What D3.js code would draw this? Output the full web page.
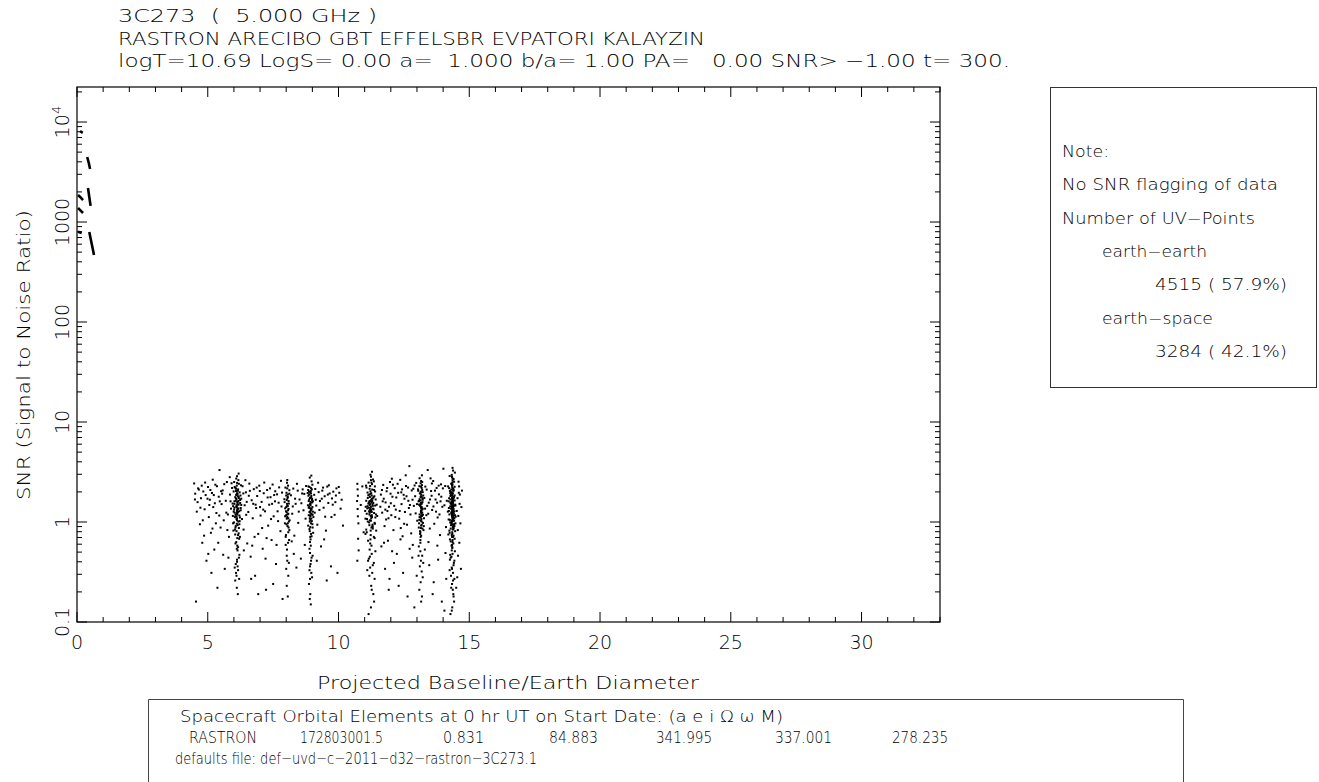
<!DOCTYPE html>
<meta charset="utf-8">
<style>
body { margin: 0; background: #fff; }
svg { display: block; font-family: "DejaVu Sans", "Liberation Sans", sans-serif; font-weight: 200; }
text { fill: #000; white-space: pre; }
</style>
<body>
<script src="https://d3js.org/d3.v7.min.js"></script>
<script>

// ---- text content ----
var titleLines = [
  "3C273  (  5.000 GHz )",
  "RASTRON ARECIBO GBT EFFELSBR EVPATORI KALAYZIN",
  "logT=10.69 LogS= 0.00 a=  1.000 b/a= 1.00 PA=   0.00 SNR> \u22121.00 t= 300."
];
var xTitle = "Projected Baseline/Earth Diameter";
var yTitle = "SNR (Signal to Noise Ratio)";
var xTickValues = [0, 5, 10, 15, 20, 25, 30];
var yTickValues = [0.1, 1, 10, 100, 1000, 10000];
var yTickLabels = ["0.1", "1", "10", "100", "1000", "10^4"];

var legendLines = [
  "Note:",
  "No SNR flagging of data",
  "Number of UV\u2212Points",
  "earth\u2212earth",
  "4515 ( 57.9%)",
  "earth\u2212space",
  "3284 ( 42.1%)"
];
var orbitHeader = "Spacecraft Orbital Elements at 0 hr UT on Start Date: (a e i \u03A9 \u03C9 M)";
var orbitRow = ["RASTRON", "172803001.5", "0.831", "84.883", "341.995", "337.001", "278.235"];
var defaultsLine = "defaults file: def\u2212uvd\u2212c\u22122011\u2212d32\u2212rastron\u22123C273.1";

// ---- earth-earth tracks (baseline, SNR) ----
var earthTracks = [
  [[0.12, 8100], [0.22, 7800]],
  [[0.39, 4470], [0.45, 3900], [0.50, 3390]],
  [[0.42, 2190], [0.47, 1780], [0.52, 1450]],
  [[0.04, 1860], [0.14, 1760], [0.23, 1660]],
  [[0.04, 1380], [0.14, 1300], [0.23, 1230]],
  [[0.04, 800], [0.18, 776]],
  [[0.47, 794], [0.56, 610], [0.65, 468]]
];

// ---- earth-space points (baseline, SNR) ----
var stripe61 = [[6.10,1.22],[6.21,0.95],[6.02,1.61],[6.15,2.05],[6.26,1.38],[5.98,0.82],[6.12,1.09],[6.19,2.41],[6.05,1.77],[6.23,0.71],[6.01,1.33],[6.14,1.91],[6.09,0.63],[6.28,1.48],[5.96,1.15],[6.17,2.62],[6.06,0.88],[6.13,1.57],[6.22,1.02],[6.03,2.24],[6.16,0.56],[6.11,1.41],[6.25,1.84],[5.99,1.27],[6.18,0.77],[6.12,2.87],[6.04,1.12],[6.24,1.66],[6.00,0.99],[6.15,1.35],[6.08,2.15],[6.20,0.68],[6.02,1.52],[6.13,1.19],[6.19,1.73],[6.07,0.91],[6.27,2.33],[5.97,1.44],[6.14,0.52],[6.10,1.07],[6.22,1.98],[6.04,0.84],[6.12,1.29],[6.17,1.62],[6.01,2.51],[6.16,0.74],[6.09,1.86],[6.23,1.11],[6.06,0.61],[6.11,1.47],[6.18,3.05],[6.03,1.24],[6.21,0.47],[6.10,1.69],[6.14,0.93],[5.99,2.02],[6.26,1.31],[6.12,0.42],[6.07,0.38],[6.16,0.33],[6.10,0.29],[6.14,0.36],[6.05,0.26],[6.19,0.44],[6.11,0.22],[6.08,0.31],[6.15,0.19],[6.12,0.40],[6.20,0.27],[6.03,0.35],[6.13,0.58],[6.09,2.72],[6.21,1.16],[6.02,1.39],[6.12,1.04],[6.18,1.79],[6.06,2.19],[6.15,1.26],[6.10,0.81],[6.24,1.55],
  [6.13,1.34],[6.08,1.72],[6.17,1.01],[6.11,2.31],[6.14,1.51],[6.06,1.18],[6.19,0.87],[6.12,1.94],[6.09,1.43],[6.16,2.12],[6.13,0.69],[6.07,1.63],[6.20,1.28],[6.11,0.96],[6.15,1.81],[6.10,1.14],[6.12,2.46],[6.17,1.37],[6.05,0.75],[6.14,1.59],[6.08,2.04],[6.13,1.23],[6.11,0.54],[6.18,1.49],[6.10,1.88]];
var stripe80 = [[8.02,1.25],[8.09,1.62],[7.95,0.97],[8.06,1.88],[8.00,1.41],[8.12,0.83],[7.97,2.21],[8.04,1.12],[8.10,1.53],[7.99,0.74],[8.07,1.31],[8.03,2.47],[8.13,1.04],[7.93,1.69],[8.05,0.91],[8.08,1.21],[8.01,1.96],[8.11,0.66],[7.96,1.37],[8.06,1.78],[8.02,1.08],[8.12,2.08],[7.98,0.59],[8.04,1.46],[8.09,0.88],[8.00,1.17],[8.07,2.31],[7.94,1.58],[8.10,1.01],[8.03,0.53],[8.05,1.73],[7.99,1.28],[8.08,0.79],[8.06,1.44],[8.02,0.46],[8.10,0.39],[8.00,0.34],[8.04,0.41],[8.08,0.29],[8.02,0.23],[8.06,0.18],[7.98,0.71],[8.12,1.92],[8.04,2.63],[7.96,1.14],[8.09,1.35],[8.01,0.95],[8.07,0.62],[8.03,1.52],[8.05,1.19],[8.00,1.84],[8.08,1.09],[8.02,1.66],[8.06,0.97],[8.04,2.17]];
var stripe89 = [[8.92,1.24],[8.99,1.71],[8.84,0.92],[8.95,2.18],[8.88,1.43],[9.03,0.78],[8.90,1.09],[8.97,2.55],[8.86,1.62],[9.01,1.18],[8.93,0.67],[8.82,1.95],[8.96,1.33],[8.89,0.85],[9.00,2.36],[8.91,1.51],[8.98,1.02],[8.85,1.83],[8.94,0.58],[9.02,1.27],[8.87,2.01],[8.95,0.97],[8.86,1.39],[8.99,1.66],[8.90,2.78],[8.97,0.72],[8.93,1.14],[8.83,1.47],[9.01,0.88],[8.88,1.89],[8.96,1.21],[8.91,0.63],[8.99,1.57],[8.85,2.27],[8.92,1.05],[8.97,1.36],[8.89,0.54],[8.95,1.76],[9.04,1.12],[8.90,0.81],[8.84,2.09],[8.93,1.29],[9.00,0.95],[8.88,1.68],[8.96,2.91],[8.91,0.49],[8.97,0.44],[8.93,0.38],[8.89,0.33],[8.95,0.41],[8.99,0.28],[8.91,0.36],[8.87,0.24],[8.96,0.31],[8.92,0.19],[8.90,0.17],[8.94,0.15],[9.01,0.46],[8.91,0.27],[8.93,1.53],[8.98,2.12],[8.86,1.17],[9.00,1.41],[8.95,0.76],[8.89,1.26],[8.92,1.98],[9.02,1.61],[8.90,1.01],
  [8.94,1.34],[8.91,1.74],[8.96,1.08],[8.89,2.24],[8.93,1.47],[8.97,1.19],[8.92,0.89],[8.95,1.93],[8.90,1.38],[8.94,2.04],[8.92,0.71],[8.93,1.59],[8.91,1.16],[8.96,1.82]];
var stripe113 = [[11.25,1.31],[11.12,1.74],[11.38,0.98],[11.19,2.15],[11.31,1.45],[11.06,0.84],[11.43,1.19],[11.15,2.48],[11.29,1.62],[11.03,1.08],[11.35,0.71],[11.22,1.91],[11.10,1.37],[11.40,2.02],[11.18,0.93],[11.33,1.55],[11.05,2.31],[11.27,1.13],[11.13,0.65],[11.37,1.81],[11.21,1.27],[11.46,1.49],[11.08,0.79],[11.32,2.66],[11.20,1.04],[11.42,1.68],[11.04,1.42],[11.26,0.58],[11.36,1.23],[11.11,1.97],[11.30,0.89],[11.17,1.58],[11.41,1.11],[11.07,2.21],[11.34,1.34],[11.23,0.74],[11.14,1.85],[11.39,0.96],[11.28,2.39],[11.02,1.29],[11.21,1.51],[11.44,0.82],[11.09,1.07],[11.31,1.72],[11.19,0.53],[11.36,2.09],[11.16,1.39],[11.27,1.17],[11.06,1.63],[11.38,0.69],[11.24,2.84],[11.12,1.01],[11.40,1.46],[11.18,1.88],[11.30,0.91],[11.08,1.21],[11.35,2.55],[11.23,1.33],[11.48,1.15],[11.03,0.76],[11.27,0.48],[11.16,0.43],[11.35,0.39],[11.21,0.35],[11.29,0.31],[11.13,0.41],[11.38,0.27],[11.25,0.23],[11.18,0.29],[11.33,0.19],[11.24,0.14],[11.15,0.12],[11.31,0.37],[11.20,0.45],[11.41,0.51],[11.10,0.33],[11.27,0.21],[11.36,0.16],[11.22,2.97],[11.28,3.18],[11.14,1.53],[11.25,1.09],[11.34,1.77],[11.19,1.24],[11.31,0.86],[11.11,1.44],[11.39,2.27],[11.23,1.61],[11.17,0.99],[11.32,1.36],
  [11.24,1.42],[11.20,1.78],[11.28,1.12],[11.22,2.03],[11.26,1.56],[11.18,1.19],[11.30,0.94],[11.21,2.29],[11.27,1.26],[11.23,0.82],[11.25,1.67],[11.19,1.48],[11.29,2.11],[11.24,1.03],[11.22,0.67],[11.27,1.84],[11.20,1.32],[11.26,2.47],[11.23,1.15],[11.28,1.71],[11.21,0.61],[11.25,1.94],[11.17,1.28],[11.30,1.49],[11.24,2.62],[11.26,0.88],[11.22,1.37],[11.19,1.62]];
var stripe131 = [[13.15,1.28],[13.21,1.72],[13.08,0.97],[13.18,2.19],[13.12,1.45],[13.25,0.83],[13.10,1.12],[13.20,2.51],[13.06,1.61],[13.23,1.18],[13.14,0.71],[13.11,1.93],[13.22,1.36],[13.07,0.88],[13.19,2.34],[13.16,1.52],[13.09,1.05],[13.24,1.84],[13.13,0.62],[13.20,1.24],[13.05,2.05],[13.18,0.94],[13.15,1.41],[13.22,1.67],[13.10,2.74],[13.12,0.76],[13.19,1.15],[13.08,1.49],[13.26,0.91],[13.16,1.88],[13.17,1.22],[13.13,0.66],[13.21,1.58],[13.09,2.28],[13.15,1.03],[13.20,1.33],[13.07,0.57],[13.18,1.78],[13.27,1.09],[13.12,0.81],[13.04,2.12],[13.16,1.31],[13.23,0.98],[13.10,1.69],[13.19,2.93],[13.13,0.51],[13.20,0.46],[13.15,0.41],[13.11,0.36],[13.18,0.32],[13.22,0.28],[13.14,0.25],[13.09,0.21],[13.19,0.18],[13.16,0.16],[13.24,0.39],[13.15,1.55],[13.20,2.09],[13.10,1.19],[13.17,1.42],[13.13,0.79],[13.16,1.26],[13.22,1.99],[13.08,1.62],[13.18,1.01],[13.14,2.44],[13.21,0.86],[13.15,1.14],
  [13.16,1.38],[13.14,1.77],[13.17,1.07],[13.15,2.26],[13.13,1.49],[13.18,1.17],[13.16,0.92],[13.14,1.96],[13.17,1.41],[13.15,2.01],[13.16,0.73],[13.14,1.64],[13.17,1.24],[13.15,0.87],[13.16,2.57],[13.14,1.11],[13.18,1.53],[13.15,1.81]];
var stripe143 = [[14.35,1.26],[14.28,1.68],[14.42,0.95],[14.31,2.11],[14.38,1.41],[14.24,0.82],[14.45,1.17],[14.33,2.43],[14.36,1.57],[14.21,1.06],[14.40,0.73],[14.30,1.89],[14.37,1.33],[14.26,2.04],[14.43,0.91],[14.34,1.51],[14.19,2.27],[14.39,1.12],[14.29,0.64],[14.41,1.79],[14.32,1.23],[14.47,1.46],[14.25,0.78],[14.36,2.61],[14.33,1.02],[14.44,1.64],[14.22,1.38],[14.35,0.56],[14.38,1.21],[14.27,1.94],[14.40,0.87],[14.31,1.54],[14.43,1.09],[14.23,2.18],[14.37,1.31],[14.34,0.71],[14.28,1.82],[14.42,0.94],[14.36,2.36],[14.18,1.27],[14.32,1.48],[14.46,0.81],[14.26,1.05],[14.39,1.71],[14.33,0.52],[14.41,2.07],[14.30,1.36],[14.35,1.15],[14.21,1.61],[14.44,0.68],[14.34,2.82],[14.27,0.99],[14.40,1.44],[14.31,1.86],[14.37,0.89],[14.24,1.19],[14.42,2.53],[14.35,1.32],[14.48,1.13],[14.20,0.75],[14.36,0.48],[14.29,0.44],[14.41,0.39],[14.33,0.35],[14.38,0.31],[14.26,0.42],[14.43,0.27],[14.34,0.24],[14.30,0.29],[14.39,0.19],[14.35,0.14],[14.28,0.12],[14.40,0.37],[14.32,0.45],[14.45,0.51],[14.25,0.33],[14.37,0.21],[14.42,0.16],[14.33,2.96],[14.38,3.27],[14.29,1.53],[14.36,1.08],[14.41,1.76],[14.32,1.24],[14.39,0.85],[14.27,1.43],[14.44,2.25],[14.35,1.62],[14.31,0.98],[14.40,1.35],[14.34,1.18],[14.37,1.92],[14.30,0.93],[14.43,1.28],[14.36,0.63],[14.28,1.57],[14.39,2.14],[14.33,1.01],[14.46,1.49],[14.23,1.73],[14.35,0.79],[14.41,1.22],[14.31,2.41],[14.38,1.06],[14.26,0.67],[14.44,1.84],[14.34,1.37],[14.29,0.86],[14.40,2.69],[14.36,1.11],[14.32,0.58],[14.47,0.97],[14.22,1.29],[14.37,1.65],[14.33,0.74],[14.42,1.03],[14.30,1.99],[14.35,0.55],[14.39,0.61],[14.27,0.47],[14.43,0.41],[14.34,0.34],[14.38,0.26],[14.31,0.22],[14.36,3.48],[14.25,2.88],[14.45,3.12],[14.40,0.18],[14.33,0.13],
  [14.36,1.38],[14.34,1.74],[14.38,1.07],[14.35,2.22],[14.37,1.51],[14.33,1.19],[14.39,0.92],[14.36,1.97],[14.34,1.42],[14.38,2.06],[14.35,0.76],[14.37,1.63],[14.33,1.27],[14.39,0.89],[14.36,2.49],[14.34,1.13],[14.38,1.56],[14.35,1.83],[14.37,1.02],[14.36,0.66],[14.34,2.31],[14.38,1.34],[14.35,1.21],[14.37,1.77],[14.33,0.97],[14.39,1.46],[14.36,2.73],[14.34,0.59],[14.38,1.16],[14.35,1.69],[14.37,0.84],[14.36,1.29],[14.34,1.91],[14.38,0.71],[14.35,1.48],[14.37,2.17],[14.36,1.05],[14.34,1.59],[14.38,1.24],[14.35,0.94]];
var scatterLeft = [[4.48,2.43],[4.52,1.92],[4.55,0.16],[4.61,1.58],[4.66,2.11],[4.70,0.95],[4.74,1.73],[4.79,0.62],[4.83,2.02],[4.88,1.34],[4.92,1.86],[4.95,0.41],[5.01,2.24],[5.04,1.12],[5.08,1.67],[5.12,0.78],[5.16,1.95],[5.21,1.41],[5.25,0.53],[5.29,2.36],[5.33,1.23],[5.37,0.22],[5.42,1.79],[5.45,3.31],[5.49,0.88],[5.53,1.51],[5.57,2.07],[5.61,1.04],[5.65,0.34],[5.69,1.63],[5.73,2.51],[5.77,1.19],[5.81,0.71],[5.85,1.88],[5.89,1.36],[5.93,2.19],[5.97,0.97],[6.28,1.71],[6.33,2.28],[6.37,0.84],[6.41,1.47],[6.46,1.98],[6.51,0.61],[6.55,1.26],[6.59,2.42],[6.64,0.45],[6.68,1.65],[6.72,1.09],[6.76,2.13],[6.81,0.29],[6.85,1.38],[6.89,1.82],[6.93,0.76],[6.97,2.31],[7.02,1.16],[7.06,1.59],[7.10,0.54],[7.14,1.94],[7.19,1.28],[7.23,0.21],[7.27,2.09],[7.31,0.92],[7.35,1.49],[7.40,1.77],[7.44,0.66],[7.48,2.37],[7.52,1.14],[7.57,1.61],[7.61,0.38],[7.65,1.89],[7.69,1.02],[7.73,2.22],[7.78,0.81],[7.82,1.43],[7.86,0.17],[8.18,1.85],[8.23,1.21],[8.27,2.16],[8.31,0.73],[8.36,1.52],[8.41,2.41],[8.46,0.98],[8.51,1.68],[8.56,0.43],[8.61,1.93],[8.66,1.31],[8.71,0.59],[8.76,2.29],[9.07,1.87],[9.11,2.14],[9.15,1.46],[9.19,0.94],[9.24,1.99],[9.29,1.62],[9.33,0.57],[9.38,2.06],[9.43,1.39],[9.47,1.81],[9.52,0.82],[9.57,2.26],[9.61,1.55],[9.66,1.93],[9.71,0.36],[9.75,1.72],[9.80,2.01],[9.85,1.18],[9.90,1.84],[9.96,0.31],[10.03,1.96],[10.12,1.67],
  [4.58,1.27],[4.77,2.31],[4.86,0.73],[5.06,1.48],[5.19,2.65],[5.31,0.97],[5.46,1.61],[5.59,0.47],[5.71,1.24],[5.84,2.81],[5.95,1.53],[6.31,1.07],[6.44,2.62],[6.57,1.83],[6.70,0.58],[6.83,1.49],[6.99,2.04],[7.12,1.33],[7.25,0.69],[7.38,2.17],[7.54,1.86],[7.67,1.28],[7.80,2.58],[8.21,0.64],[8.34,1.71],[8.48,1.27],[8.63,2.12],[8.74,1.08],[9.09,1.24],[9.22,2.47],[9.36,1.71],[9.49,1.13],[9.63,2.33],[9.78,1.49],[9.92,2.17],[10.08,1.36],[5.23,1.86],[5.51,2.03],[6.49,1.59],[7.08,0.87],[7.46,1.52],[8.39,0.35],[9.55,0.26],[6.93,0.19],[5.02,0.48],
  [4.51,1.68],[4.63,2.17],[4.72,1.39],[4.81,1.04],[4.90,2.48],[4.99,1.71],[5.10,2.09],[5.18,0.86],[5.27,1.54],[5.35,2.28],[5.44,1.16],[5.55,1.92],[5.63,2.39],[5.75,0.83],[5.87,1.61],[5.91,2.44],[6.36,1.93],[6.47,1.18],[6.61,2.05],[6.74,1.52],[6.87,2.21],[7.00,1.41],[7.16,2.48],[7.29,1.76],[7.42,1.07],[7.58,2.03],[7.71,1.56],[7.84,1.97],[8.25,1.43],[8.44,2.06],[8.58,1.54],[8.69,1.91],[9.13,1.67],[9.27,1.32],[9.41,2.21],[9.59,1.88],[9.73,1.12],[9.88,1.58],[10.01,2.24],[10.17,0.92],
  [5.40,0.62],[5.79,0.44],[6.38,0.52],[6.79,0.71],[7.21,0.43],[7.63,0.59],[8.29,0.48],[9.17,0.41],[9.45,0.67],[6.66,0.27],[7.50,0.24],[5.14,0.31]];
var scatterRight = [[10.72,2.41],[10.74,1.83],[10.73,1.35],[10.76,0.97],[10.71,1.62],[10.75,0.68],[10.73,2.12],[10.77,0.52],[10.74,1.14],[10.72,0.41],[10.85,1.48],[10.91,2.27],[10.96,0.79],
  [11.62,1.88],[11.67,1.24],[11.71,2.35],[11.76,0.91],[11.80,1.57],[11.84,2.03],[11.89,0.65],[11.93,1.42],[11.97,2.51],[12.02,1.17],[12.06,1.79],[12.10,0.83],[12.15,2.18],[12.19,1.33],[12.23,0.48],[12.28,1.96],[12.32,1.08],[12.36,2.64],[12.41,1.51],[12.45,0.72],[12.49,1.87],[12.54,1.26],[12.58,2.29],[12.62,0.94],[12.67,1.63],[12.71,3.62],[12.75,1.19],[12.80,2.07],[12.84,0.59],[12.88,1.45],[12.93,1.81],[12.97,2.46],[13.01,1.03],
  [11.64,0.57],[11.78,0.34],[11.95,0.27],[12.12,0.39],[12.30,0.23],[12.47,0.31],[12.64,0.18],[12.82,0.44],[12.99,0.29],
  [11.69,1.61],[11.82,1.06],[11.99,1.92],[12.13,1.45],[12.26,2.41],[12.38,0.87],[12.52,1.71],[12.69,1.38],[12.86,2.15],[12.95,1.22],[12.04,2.71],[12.57,2.93],[12.78,0.77],[12.40,1.98],[11.87,1.29],
  [13.28,1.74],[13.32,2.26],[13.36,1.17],[13.41,3.31],[13.45,1.56],[13.49,0.86],[13.54,2.04],[13.58,1.32],[13.62,2.57],[13.66,0.96],[13.71,1.68],[13.75,2.19],[13.79,1.11],[13.84,1.89],[13.88,0.74],[13.92,2.38],[13.97,1.42],[14.01,3.41],[13.30,0.53],[13.47,0.37],[13.64,0.25],[13.81,0.42],[13.95,0.16],[13.39,1.45],[13.56,1.83],[13.73,1.27],[13.90,1.61],[13.52,2.73],
  [14.55,1.73],[14.58,1.15],[14.61,2.27],[14.56,0.83],[14.63,1.52],[14.57,0.46],[14.60,1.96],[14.54,0.28],[14.62,0.62],[14.59,2.53],
  [11.60,1.42],[11.66,2.09],[11.73,1.71],[11.79,1.33],[11.86,2.19],[11.91,1.09],[12.00,1.54],[12.08,2.36],[12.17,1.12],[12.21,1.76],[12.34,1.29],[12.43,2.12],[12.51,0.96],[12.60,1.81],[12.66,2.21],[12.73,1.48],[12.83,1.67],[12.91,2.32],[13.00,1.51],[13.31,1.36],[13.37,2.11],[13.43,1.21],[13.50,1.68],[13.57,2.43],[13.63,1.43],[13.69,2.06],[13.77,1.56],[13.83,2.31],[13.86,1.19],[13.93,1.79],[13.99,2.17],[14.05,1.47],[14.08,2.29],[14.11,0.89],[14.14,1.63],[14.52,1.29],[14.64,1.88],[14.66,0.97],[14.70,1.41],[14.72,2.06],
  [11.74,0.62],[12.05,0.51],[12.37,0.67],[12.72,0.54],[13.06,0.46],[13.44,0.63],[13.78,0.58],[14.09,0.49],[14.12,0.27],[13.60,0.19],[12.90,0.14],[11.92,0.21],[14.68,0.34],[14.50,0.22],[14.05,0.13]];

var spacePoints = [].concat(scatterLeft, scatterRight, stripe61, stripe80, stripe89, stripe113, stripe131, stripe143);

// ---- layout ----
var margin = {top: 87, left: 77};
var width = 863, height = 535;

var svg = d3.select("body").append("svg")
  .attr("width", 1319)
  .attr("height", 782);

var x = d3.scaleLinear().domain([0, 33]).range([0, width]);
var y = d3.scaleLog().domain([0.1, 22400]).range([height, 0]);

// header
var titleWidths = [259, 587, 892];
svg.selectAll(".title")
  .data(titleLines)
  .enter().append("text")
    .attr("class", "title")
    .attr("x", 118)
    .attr("y", function(d, i) { return 22 + i * 22.5; })
    .attr("font-size", 18)
    .attr("textLength", function(d, i) { return titleWidths[i]; })
    .attr("lengthAdjust", "spacingAndGlyphs")
    .text(function(d) { return d; });

var g = svg.append("g")
  .attr("transform", "translate(" + margin.left + "," + margin.top + ")");

// frame
g.append("rect")
  .attr("width", width)
  .attr("height", height)
  .attr("fill", "none")
  .attr("stroke", "#000")
  .attr("stroke-width", 1.2);

// x ticks, bottom and top, pointing inward
var xTicks = d3.range(0, 34, 1);
g.selectAll(".xtick-b")
  .data(xTicks)
  .enter().append("line")
    .attr("x1", function(d) { return x(d); })
    .attr("x2", function(d) { return x(d); })
    .attr("y1", height)
    .attr("y2", function(d) { return height - (d % 5 === 0 ? 10 : 5); })
    .attr("stroke", "#000");
g.selectAll(".xtick-t")
  .data(xTicks)
  .enter().append("line")
    .attr("x1", function(d) { return x(d); })
    .attr("x2", function(d) { return x(d); })
    .attr("y1", 0)
    .attr("y2", function(d) { return d % 5 === 0 ? 10 : 5; })
    .attr("stroke", "#000");

// y log ticks, left and right
var yTicks = [];
d3.range(-1, 5).forEach(function(e) {
  d3.range(1, 10).forEach(function(k) {
    var v = k * Math.pow(10, e);
    if (v >= 0.1 && v <= 22400) yTicks.push({v: v, major: k === 1});
  });
});
g.selectAll(".ytick-l")
  .data(yTicks)
  .enter().append("line")
    .attr("x1", 0)
    .attr("x2", function(d) { return d.major ? 10 : 5; })
    .attr("y1", function(d) { return y(d.v); })
    .attr("y2", function(d) { return y(d.v); })
    .attr("stroke", "#000");
g.selectAll(".ytick-r")
  .data(yTicks)
  .enter().append("line")
    .attr("x1", width)
    .attr("x2", function(d) { return width - (d.major ? 10 : 5); })
    .attr("y1", function(d) { return y(d.v); })
    .attr("y2", function(d) { return y(d.v); })
    .attr("stroke", "#000");

// x tick labels
g.selectAll(".xlab")
  .data(xTickValues)
  .enter().append("text")
    .attr("x", function(d) { return x(d); })
    .attr("y", height + 27)
    .attr("text-anchor", "middle")
    .attr("font-size", 19)
    .text(function(d) { return d; });

// y tick labels (rotated)
var ylab = g.selectAll(".ylab")
  .data(yTickValues)
  .enter().append("text")
    .attr("transform", function(d) { return "translate(-8," + y(d) + ") rotate(-90)"; })
    .attr("text-anchor", "middle")
    .attr("font-size", 19);
ylab.each(function(d, i) {
  var lab = yTickLabels[i];
  var t = d3.select(this);
  if (lab.indexOf("^") > 0) {
    var parts = lab.split("^");
    t.append("tspan").text(parts[0]);
    t.append("tspan").attr("dy", -8).attr("font-size", 13).text(parts[1]);
  } else {
    t.text(lab);
  }
});

// axis titles
svg.append("text")
  .attr("x", 508)
  .attr("y", 689)
  .attr("text-anchor", "middle")
  .attr("font-size", 18)
  .attr("textLength", 382)
  .attr("lengthAdjust", "spacingAndGlyphs")
  .text(xTitle);

svg.append("text")
  .attr("transform", "translate(30,355) rotate(-90)")
  .attr("text-anchor", "middle")
  .attr("font-size", 18)
  .attr("textLength", 290)
  .attr("lengthAdjust", "spacingAndGlyphs")
  .text(yTitle);

// earth-earth tracks
var line = d3.line()
  .x(function(d) { return x(d[0]); })
  .y(function(d) { return y(d[1]); });
g.selectAll(".track")
  .data(earthTracks)
  .enter().append("path")
    .attr("d", line)
    .attr("fill", "none")
    .attr("stroke", "#000")
    .attr("stroke-width", 2.6);

// earth-space points
g.selectAll(".pt")
  .data(spacePoints)
  .enter().append("rect")
    .attr("x", function(d) { return x(d[0]) - 1; })
    .attr("y", function(d) { return y(d[1]) - 1; })
    .attr("width", 2)
    .attr("height", 2)
    .attr("fill", "#000");

// legend box
svg.append("rect")
  .attr("x", 1050.5).attr("y", 87.5)
  .attr("width", 266).attr("height", 300)
  .attr("fill", "none").attr("stroke", "#333");
var indent = [0, 0, 0, 40, 93, 40, 93];
var legendWidths = [47, 216, 193, 105, 132, 111, 132];
svg.selectAll(".leg")
  .data(legendLines)
  .enter().append("text")
    .attr("x", function(d, i) { return 1062 + indent[i]; })
    .attr("y", function(d, i) { return 157 + i * 33.3; })
    .attr("font-size", 15)
    .attr("textLength", function(d, i) { return legendWidths[i]; })
    .attr("lengthAdjust", "spacingAndGlyphs")
    .text(function(d) { return d; });

// orbital elements box (condensed text squeezed to the widths in the picture)
svg.append("path")
  .attr("d", "M148.5,782V699.5H1183.5V782")
  .attr("fill", "none").attr("stroke", "#444");
svg.append("text")
  .attr("x", 180).attr("y", 722)
  .attr("font-size", 16)
  .attr("textLength", 603).attr("lengthAdjust", "spacingAndGlyphs")
  .text(orbitHeader);
var colX = [189, 300, 443, 549, 656, 775, 892];
var colW = [68, 83, 41, 49, 56, 57, 56];
svg.selectAll(".orb")
  .data(orbitRow)
  .enter().append("text")
    .attr("x", function(d, i) { return colX[i]; })
    .attr("y", 743)
    .attr("font-size", 16)
    .attr("textLength", function(d, i) { return colW[i]; })
    .attr("lengthAdjust", "spacingAndGlyphs")
    .text(function(d) { return d; });
svg.append("text")
  .attr("x", 175).attr("y", 764)
  .attr("font-size", 16)
  .attr("textLength", 362).attr("lengthAdjust", "spacingAndGlyphs")
  .text(defaultsLine);

</script>
</body>
